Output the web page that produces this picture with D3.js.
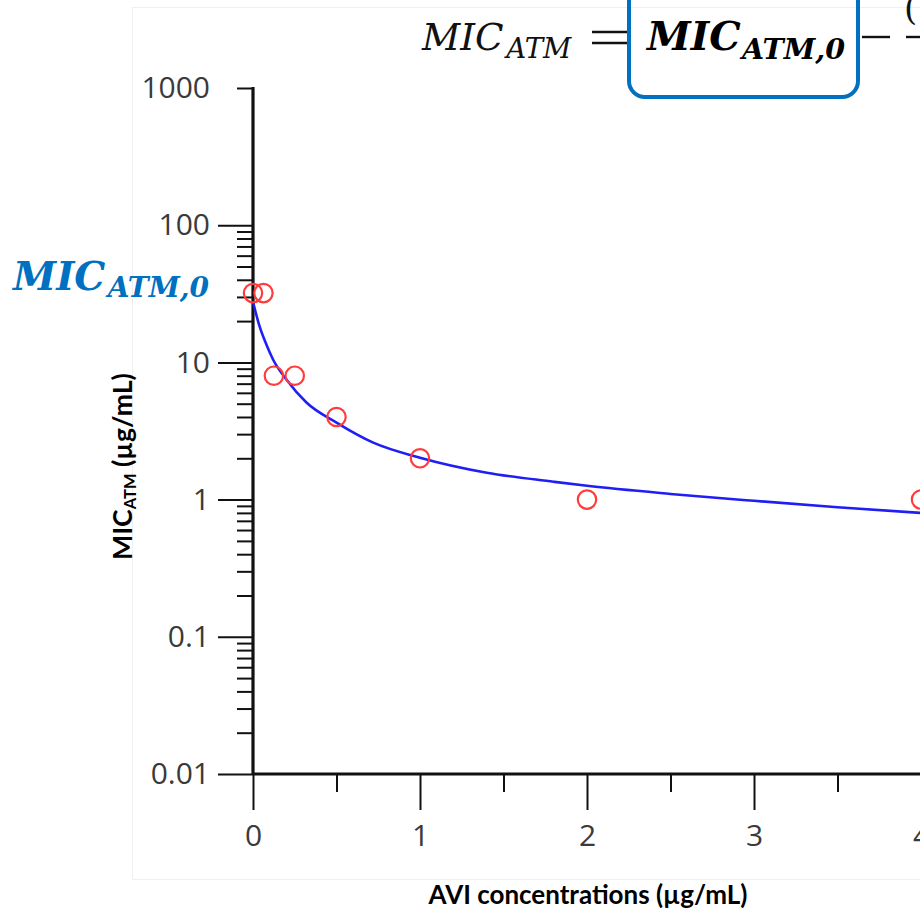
<!DOCTYPE html>
<html><head><meta charset="utf-8">
<script src="https://cdn.jsdelivr.net/npm/d3@7"></script>
<style>html,body{margin:0;padding:0;background:#fff;overflow:hidden}</style>
</head><body>
<svg id="chart" width="920" height="909"></svg>
<script>
// observed MIC of ATM at each AVI concentration
const aviConc = [0, 0.0625, 0.125, 0.25, 0.5, 1, 2, 4];
const micObserved = [32, 32, 8, 8, 4, 2, 1, 1];
// fitted model curve
const fitConc = [0, 0.04, 0.08, 0.12, 0.2, 0.32, 0.5, 0.72, 1.0, 1.4, 1.8, 2.0, 2.5, 3.0, 3.5, 4.0];
const fitMic  = [27.7, 18.2, 13.5, 10.5, 7.5, 5.1, 3.64, 2.6, 2.02, 1.57, 1.35, 1.26, 1.10, 0.98, 0.88, 0.80];
// axis ticks
const yTickValues = [0.01, 0.1, 1, 10, 100, 1000];
const yTickLabels = ["0.01", "0.1", "1", "10", "100", "1000"];
const yLongTicks = [0.01, 0.1, 1, 10, 100];
const xTickValues = [0, 1, 2, 3, 4];
const xTickLabels = ["0", "1", "2", "3", "4"];
const xMinorValues = [0.5, 1.5, 2.5, 3.5];

const svg = d3.select("#chart");
const x = d3.scaleLinear().domain([0, 4]).range([253, 921]);
const y = d3.scaleLog().domain([0.01, 1000]).range([774, 88]);

// faint frame of the embedded plot
svg.append("rect").attr("x", 132.5).attr("y", 7.5).attr("width", 820).attr("height", 872)
  .attr("fill", "none").attr("stroke", "#efefef").attr("stroke-width", 1);

// y minor ticks (2..9 per decade) plus top 1000 short tick
const yMinor = [];
for (let d = -2; d <= 1; d++) for (let k = 2; k <= 9; k++) yMinor.push(k * Math.pow(10, d));
yMinor.push(1000);

const tickStyle = g => g.call(s => s.select(".domain").remove())
  .call(s => s.selectAll(".tick line").attr("stroke", "#111").attr("stroke-width", 2));

svg.append("g").attr("transform", `translate(${x(0)},0)`)
  .call(d3.axisLeft(y).tickValues(yMinor).tickSize(16).tickFormat(""))
  .call(tickStyle);
svg.append("g").attr("transform", `translate(${x(0)},0)`)
  .call(d3.axisLeft(y).tickValues(yLongTicks).tickSize(35).tickFormat(""))
  .call(tickStyle);
const yLab = svg.append("g").attr("transform", `translate(${x(0)},0)`)
  .call(d3.axisLeft(y).tickValues(yTickValues).tickSize(0).tickPadding(43)
    .tickFormat((d, i) => yTickLabels[i]));
yLab.select(".domain").remove();
yLab.selectAll("text").attr("font-family", "'Open Sans', 'Noto Sans', sans-serif")
  .attr("font-size", 30).attr("fill", "#3a3a3a");

// x axis ticks
svg.append("g").attr("transform", `translate(0,${y(0.01)})`)
  .call(d3.axisBottom(x).tickValues(xMinorValues).tickSize(18).tickFormat(""))
  .call(tickStyle);
svg.append("g").attr("transform", `translate(0,${y(0.01)})`)
  .call(d3.axisBottom(x).tickValues(xTickValues).tickSize(36).tickFormat(""))
  .call(tickStyle);
const xLab = svg.append("g").attr("transform", `translate(0,${y(0.01)})`)
  .call(d3.axisBottom(x).tickValues(xTickValues).tickSize(0).tickPadding(51)
    .tickFormat((d, i) => xTickLabels[i]));
xLab.select(".domain").remove();
xLab.selectAll("text").attr("font-family", "'Open Sans', 'Noto Sans', sans-serif")
  .attr("font-size", 30).attr("fill", "#3a3a3a");

// axis lines
svg.append("line").attr("x1", x(0)).attr("x2", x(0)).attr("y1", y(1000) - 1).attr("y2", y(0.01))
  .attr("stroke", "#111").attr("stroke-width", 3.2);
svg.append("line").attr("x1", x(0)).attr("x2", 920).attr("y1", y(0.01)).attr("y2", y(0.01))
  .attr("stroke", "#111").attr("stroke-width", 3.2);

// fitted curve
const line = d3.line().x((d, i) => x(fitConc[i])).y((d, i) => y(fitMic[i])).curve(d3.curveMonotoneX);
svg.append("path").attr("d", line(fitConc)).attr("fill", "none")
  .attr("stroke", "#1f1ff5").attr("stroke-width", 2.6);

// observed points
svg.append("g").selectAll("circle").data(aviConc).join("circle")
  .attr("cx", (d) => x(d)).attr("cy", (d, i) => y(micObserved[i])).attr("r", 9.2)
  .attr("fill", "none").attr("stroke", "#ff3b3b").attr("stroke-width", 2.2);

// fit helper
function fitWidth(sel, target) {
  const fs = parseFloat(sel.attr("font-size"));
  const w = sel.node().getBBox().width;
  sel.attr("font-size", fs * target / w);
}

// axis titles
const xt = svg.append("text").attr("x", 588).attr("y", 904).attr("text-anchor", "middle")
  .attr("font-family", "Lato, 'Open Sans', sans-serif").attr("font-weight", "bold")
  .attr("font-size", 26).attr("fill", "#000").text("AVI concentrations (µg/mL)");
fitWidth(xt, 320);

const yt = svg.append("text").attr("transform", "translate(132,560) rotate(-90)")
  .attr("font-family", "Lato, 'Open Sans', sans-serif").attr("font-weight", "bold")
  .attr("font-size", 26).attr("fill", "#000");
yt.append("tspan").text("MIC");
yt.append("tspan").attr("font-size", "0.62em").attr("dy", "0.25em").text("ATM");
yt.append("tspan").attr("dy", "-0.16em").text(" (µg/mL)");
fitWidth(yt, 187);

// blue MIC_ATM,0 label on the left
const bl = svg.append("text").attr("x", 13).attr("y", 290)
  .attr("font-family", "'DejaVu Serif', serif").attr("font-style", "italic").attr("font-weight", "bold")
  .attr("font-size", 42).attr("fill", "#0070c0");
bl.append("tspan").text("MIC");
bl.append("tspan").attr("font-size", "0.72em").attr("dy", "0.24em").attr("dx", "0.08em").text("ATM,0");
fitWidth(bl, 198);

// formula at the top
const f1 = svg.append("text").attr("x", 422).attr("y", 50)
  .attr("font-family", "'DejaVu Serif', serif").attr("font-style", "italic")
  .attr("font-size", 40).attr("fill", "#111");
f1.append("tspan").text("MIC");
f1.append("tspan").attr("font-size", "0.74em").attr("dy", "0.3em").attr("dx", "0.1em").text("ATM");
fitWidth(f1, 151);

svg.append("line").attr("x1", 592).attr("x2", 628).attr("y1", 32).attr("y2", 32).attr("stroke", "#111").attr("stroke-width", 2.6);
svg.append("line").attr("x1", 592).attr("x2", 628).attr("y1", 43).attr("y2", 43).attr("stroke", "#111").attr("stroke-width", 2.6);

svg.append("rect").attr("x", 629).attr("y", -20).attr("width", 229).attr("height", 117).attr("rx", 16)
  .attr("fill", "none").attr("stroke", "#0070c0").attr("stroke-width", 4);

const f2 = svg.append("text").attr("x", 647).attr("y", 50)
  .attr("font-family", "'DejaVu Serif', serif").attr("font-style", "italic").attr("font-weight", "bold")
  .attr("font-size", 42).attr("fill", "#000");
f2.append("tspan").text("MIC");
f2.append("tspan").attr("font-size", "0.72em").attr("dy", "0.3em").attr("dx", "0.04em").text("ATM,0");
fitWidth(f2, 200);

svg.append("line").attr("x1", 862).attr("x2", 890).attr("y1", 37).attr("y2", 37).attr("stroke", "#111").attr("stroke-width", 2.4);
svg.append("line").attr("x1", 906).attr("x2", 920).attr("y1", 37).attr("y2", 37).attr("stroke", "#111").attr("stroke-width", 2.4);
svg.append("text").attr("x", 904).attr("y", 20).attr("font-family", "'DejaVu Serif', serif")
  .attr("font-size", 34).attr("fill", "#111").text("(");
</script>
</body></html>
